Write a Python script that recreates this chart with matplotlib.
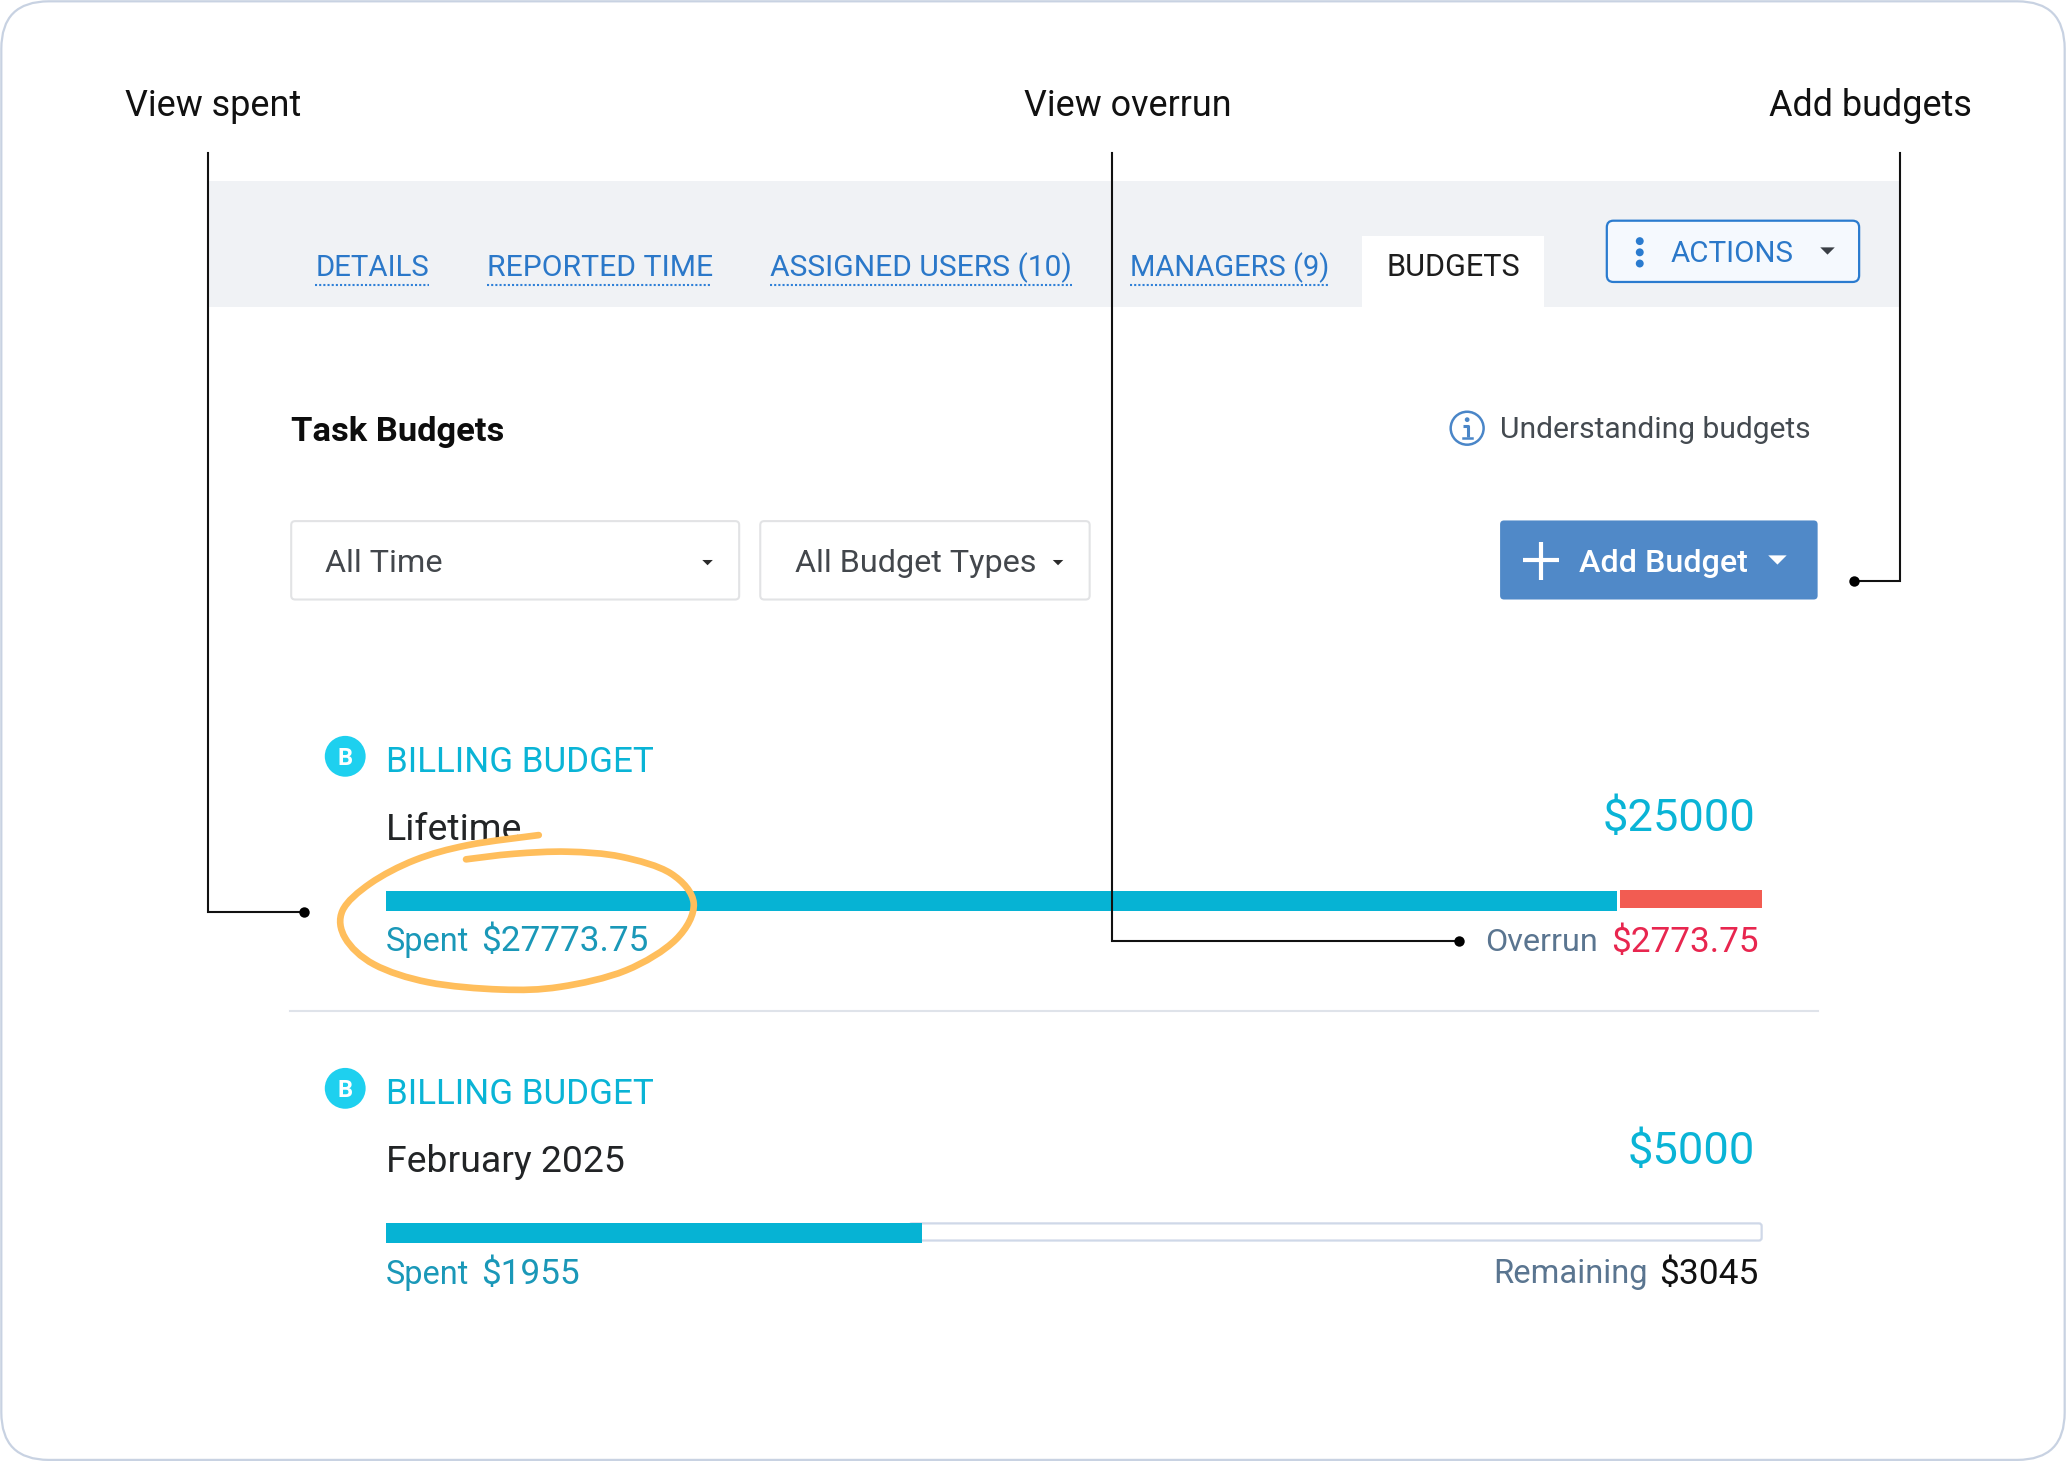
import matplotlib
matplotlib.use("Agg")
import matplotlib.pyplot as plt
from matplotlib.patches import FancyBboxPatch, Rectangle, Circle, Polygon, PathPatch
from matplotlib.path import Path
import numpy as np

# ---- data ----
tab_labels = ["DETAILS", "REPORTED TIME", "ASSIGNED USERS (10)", "MANAGERS (9)"]
active_tab = "BUDGETS"
callouts = ["View spent", "View overrun", "Add budgets"]
periods = ["Lifetime", "February 2025"]
budgets = [25000, 5000]
spent = [27773.75, 1955]
overrun = 2773.75
remaining = 3045

W, H = 2066, 1461
S = W / 1568
plt.rcParams['font.family'] = ['Roboto', 'DejaVu Sans']
fig = plt.figure(figsize=(W / 100, H / 100), dpi=100, facecolor='white')
ax = fig.add_axes([0, 0, 1, 1], zorder=0)
ax.set_xlim(0, 1568); ax.set_ylim(H / S, 0); ax.axis('off')
rend = fig.canvas.get_renderer()

def T(x0, x1, base, s, color, weight='normal', a=ax):
    t = a.text(x0, base + 0.8, s, color=color, fontsize=20, fontweight=weight, ha='left', va='baseline')
    w = t.get_window_extent(rend).width
    t.set_fontsize(20 * (x1 - x0) * S / w)
    return t

def box(x0, y0, x1, y1, r, fc, ec='none', lw=1.0, z=1):
    p = FancyBboxPatch((x0 + r, y0 + r), x1 - x0 - 2 * r, y1 - y0 - 2 * r,
                       boxstyle=f"round,pad={r},rounding_size={r}", fc=fc, ec=ec, lw=lw, zorder=z)
    ax.add_patch(p)

def caret(cx, cy, w, h, color):
    ax.add_patch(Polygon([(cx - w, cy - h / 2), (cx + w, cy - h / 2), (cx, cy + h / 2)], fc=color, ec='none', zorder=4))

# card
box(1, 1, 1567, 1108, 36, 'white', '#c8d2e2', 1.6)

# tab band
ax.add_patch(Rectangle((159, 137), 1283, 96, fc='#f0f2f5', ec='none', zorder=1))
ax.add_patch(Rectangle((1034, 179), 138, 54.5, fc='white', ec='none', zorder=1.5))
tab_x = [(239.3, 325.7), (369.3, 540.7), (584.3, 813.7), (857.3, 1008.7)]
for (a, b), s in zip(tab_x, tab_labels):
    T(a, b, 209, s, '#2b78c9')
    ax.plot([a, b], [216, 216], color='#2f80d8', lw=1.5, ls=(0, (1, 1)), zorder=3)
T(1052.3, 1153.7, 209, active_tab, '#1d1d1d')

# actions
box(1219.5, 167.5, 1411, 214, 5, '#f5f9fe', '#2a7bcf', 1.6, 2)
for y in (183, 191.5, 200):
    ax.add_patch(Circle((1244.5, y), 3, fc='#2a7bcf', ec='none', zorder=3))
T(1268, 1361.5, 198, "ACTIONS", '#2b78c9')
caret(1387, 190.5, 5.5, 5.5, '#3a3f46')

# heading
T(221, 382, 334, "Task Budgets", '#0d0d0d', 'bold')
ax.add_patch(Circle((1113.5, 325), 12.5, fc='white', ec='#4a86c8', lw=1.8, zorder=3))
ax.add_patch(Circle((1113.5, 318.5), 1.8, fc='#4a86c8', ec='none', zorder=4))
ax.plot([1110.5, 1114, 1114], [323.5, 323.5, 332], color='#4a86c8', lw=2.2, zorder=4, solid_capstyle='butt')
ax.plot([1110, 1117.5], [332.5, 332.5], color='#4a86c8', lw=1.8, zorder=4)
T(1138.5, 1374, 331.5, "Understanding budgets", '#444a50')

# dropdowns
box(221, 395.5, 561, 455, 3, 'white', '#e2e3e5', 1.5, 2)
T(247, 336, 433.5, "All Time", '#43474c')
caret(537, 427, 4, 4, '#2b2b2b')
box(577, 395.5, 827, 455, 3, 'white', '#e2e3e5', 1.5, 2)
T(603, 786, 433.5, "All Budget Types", '#43474c')
caret(803, 427, 4, 4, '#2b2b2b')

# add budget
box(1138.5, 395, 1379.5, 455, 3, '#5089c8', 'none', 1, 2)
ax.plot([1156, 1183], [425, 425], color='white', lw=3, zorder=3, solid_capstyle='butt')
ax.plot([1169.5, 1169.5], [411, 440], color='white', lw=3, zorder=3, solid_capstyle='butt')
T(1198.5, 1326.5, 433.5, "Add Budget", 'white', 'medium')
caret(1349, 425, 7, 7, 'white')

# sections
section_y = [0, 252]
value_x = [1216, 1235]
period_x = [396, 474]
for i, dy in enumerate(section_y):
    ax.add_patch(Circle((262, 574 + dy), 15.5, fc='#1ed0ef', ec='none', zorder=3))
    ax.text(262, 580.6 + dy, "B", color='white', fontsize=17, fontweight='bold', ha='center', va='baseline', zorder=4)
    T(293, 496.5, 585 + dy, "BILLING BUDGET", '#0ab4d6')
    T(293, period_x[i], 637 + dy - (0.5 if i else 0), periods[i], '#222426')
    T(value_x[i], 1332, 630 + dy + (0.5 if i else 0), f"${budgets[i]}", '#0ab4d6')

ax.plot([220, 1380], [767.5, 767.5], color='#dfe3ea', lw=1.5, zorder=2)

T(293, 356, 721, "Spent", '#1a98b8')
T(365, 492, 721, f"${spent[0]}", '#1a98b8')
T(1127, 1212.5, 721, "Overrun", '#5a7590')
T(1222.5, 1334.5, 721.5, f"${overrun}", '#e8264f')
T(293, 356, 973.5, "Spent", '#1a98b8')
T(365, 440, 973.5, f"${spent[1]}", '#1a98b8')
T(1133, 1250, 973, "Remaining", '#5a7590')
T(1259, 1334.5, 973.5, f"${remaining}", '#111111')

# remaining track
box(690, 928.5, 1337, 941.5, 2, 'white', '#cfd8e8', 1.6, 2)

def bar_axes(px0, px1, py0, py1, xlim):
    a = fig.add_axes([px0 / W, 1 - py1 / H, (px1 - px0) / W, (py1 - py0) / H], zorder=1)
    a.set_xlim(*xlim); a.set_ylim(-0.5, 0.5); a.axis('off'); a.patch.set_alpha(0)
    return a

a1 = bar_axes(386, 1617, 890.5, 910.5, (0, budgets[0]))
a1.barh(0, budgets[0], height=1, color='#06b3d4')
a2 = bar_axes(1620, 1762, 890.5, 908.5, (budgets[0], spent[0]))
a2.barh(0, overrun, left=budgets[0], height=1, color='#f25c52')
a3 = bar_axes(386, 1757, 1223, 1243, (0, budgets[1]))
a3.barh(0, spent[1], height=1, color='#06b3d4')

# callouts
over = fig.add_axes([0, 0, 1, 1], zorder=2)
over.set_xlim(0, 1568); over.set_ylim(H / S, 0); over.axis('off'); over.patch.set_alpha(0)
T(95, 228, 87.5, callouts[0], '#111111', a=over)
T(777.5, 934.5, 87.5, callouts[1], '#111111', a=over)
T(1342.5, 1496, 87.5, callouts[2], '#111111', a=over)
for xs, ys in [([157.5, 157.5, 231], [116, 692, 692]),
               ([844, 844, 1107], [116, 714, 714]),
               ([1442, 1442, 1407], [116, 441, 441])]:
    over.plot(xs, ys, color='#111111', lw=1.5, solid_joinstyle='miter', zorder=5)
    over.plot(xs[-1], ys[-1], 'o', color='black', ms=7.5, mew=0, zorder=6)

# hand-drawn orange ring
ring = np.array([(353.7, 652.2), (390, 648), (430.7, 646.4), (471.3, 650.2), (509.1, 662.9), (526.5, 685.6),
                 (513, 713), (475, 736.5), (425, 749), (380, 751), (325, 745.5),
                 (284, 732), (262, 712), (260, 691), (281, 670.5), (315, 652.7),
                 (355.2, 641.4), (408.9, 633.8)])
verts = [ring[0]]; codes = [Path.MOVETO]
for i in range(len(ring) - 1):
    p0 = ring[max(i - 1, 0)]; p1 = ring[i]; p2 = ring[i + 1]; p3 = ring[min(i + 2, len(ring) - 1)]
    verts += [p1 + (p2 - p0) / 6, p2 - (p3 - p1) / 6, p2]
    codes += [Path.CURVE4] * 3
over.add_patch(PathPatch(Path(verts, codes), fc='none', ec='#ffbe5c', lw=4.8, capstyle='round', zorder=7))

fig.savefig('out.png', dpi=100, facecolor='white')
